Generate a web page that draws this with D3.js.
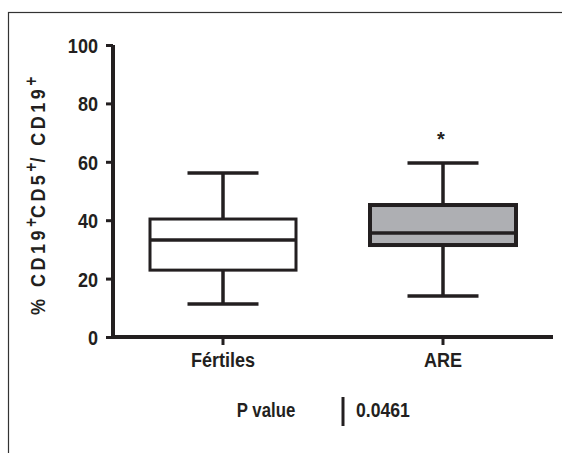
<!DOCTYPE html>
<html><head><meta charset="utf-8">
<script src="https://cdn.jsdelivr.net/npm/d3@7"></script>
<style>
html,body{margin:0;padding:0;background:#fff;}
text{font-family:"Liberation Sans",Arial,sans-serif;font-weight:bold;fill:#231f20;}
</style></head>
<body><svg id="c" width="562" height="453"></svg>
<script>
const categories = ["Fértiles", "ARE"];
const whiskerLow = [11.3, 14.0];
const q1 = [22.9, 31.5];
const median = [33.2, 35.6];
const q3 = [40.4, 45.2];
const whiskerHigh = [56.2, 59.6];
const fills = ["#ffffff", "#aeafb3"];
const yTicks = [0, 20, 40, 60, 80, 100];
const pLabel = "P value";
const pValue = "0.0461";
const star = "*";

const svg = d3.select("#c");
const ink = "#231f20";
const SX = 0.86; // condensed look

// frame
svg.append("rect").attr("x", 8.5).attr("y", 12.5).attr("width", 600).attr("height", 500)
  .attr("fill", "none").attr("stroke", "#333").attr("stroke-width", 1.2);

const y = d3.scaleLinear().domain([0, 100]).range([337, 45]);
const x = d3.scaleBand().domain(categories).range([113, 553]).paddingInner(0).paddingOuter(0);

function condense(sel) {
  sel.each(function () {
    const t = d3.select(this);
    const tx = +t.attr("x") || 0, ty = +t.attr("y") || 0;
    t.attr("x", 0).attr("y", 0).attr("transform", `translate(${tx},${ty}) scale(${SX},1)`);
  });
}

// y axis
const yAxis = svg.append("g").attr("transform", "translate(113,0)")
  .call(d3.axisLeft(y).tickValues(yTicks).tickSize(7).tickPadding(8).tickFormat(d3.format("d")));
yAxis.select(".domain").attr("d", `M0,${y(100)}V${y(0)+2}`).attr("stroke", ink).attr("stroke-width", 4);
yAxis.selectAll(".tick line").attr("stroke", ink).attr("stroke-width", 3);
yAxis.selectAll(".tick text").attr("font-size", 21).attr("dy", "0.36em").style("fill", ink).call(condense);

// x axis
const xAxis = svg.append("g").attr("transform", `translate(0,${y(0)})`)
  .call(d3.axisBottom(x).tickSize(8).tickPadding(9));
xAxis.select(".domain").attr("d", `M111,0H553`).attr("stroke", ink).attr("stroke-width", 4);
xAxis.selectAll(".tick line").attr("stroke", ink).attr("stroke-width", 3);
xAxis.selectAll(".tick text").attr("font-size", 21).attr("dy", "0.62em").style("fill", ink).call(condense);

// boxes
const boxW = 146, capW = 71;
categories.forEach((c, i) => {
  const cx = x(c) + x.bandwidth() / 2;
  const sw = i === 1 ? 4 : 3;
  const g = svg.append("g");
  g.append("line").attr("x1", cx).attr("x2", cx).attr("y1", y(whiskerHigh[i])).attr("y2", y(q3[i]))
    .attr("stroke", ink).attr("stroke-width", 3.5);
  g.append("line").attr("x1", cx).attr("x2", cx).attr("y1", y(q1[i])).attr("y2", y(whiskerLow[i]))
    .attr("stroke", ink).attr("stroke-width", 3.5);
  g.append("line").attr("x1", cx - capW / 2).attr("x2", cx + capW / 2).attr("y1", y(whiskerHigh[i])).attr("y2", y(whiskerHigh[i]))
    .attr("stroke", ink).attr("stroke-width", 3.5);
  g.append("line").attr("x1", cx - capW / 2).attr("x2", cx + capW / 2).attr("y1", y(whiskerLow[i])).attr("y2", y(whiskerLow[i]))
    .attr("stroke", ink).attr("stroke-width", 3.5);
  g.append("rect").attr("x", cx - boxW / 2).attr("y", y(q3[i])).attr("width", boxW).attr("height", y(q1[i]) - y(q3[i]))
    .attr("fill", fills[i]).attr("stroke", ink).attr("stroke-width", sw);
  g.append("line").attr("x1", cx - boxW / 2).attr("x2", cx + boxW / 2).attr("y1", y(median[i])).attr("y2", y(median[i]))
    .attr("stroke", ink).attr("stroke-width", 3.5);
});

// significance star
svg.append("text").attr("x", x("ARE") + x.bandwidth() / 2 - 2).attr("y", y(whiskerHigh[1]) - 17)
  .attr("text-anchor", "middle").attr("font-size", 20).text(star);

// y label
const yl = svg.append("text").attr("transform", `translate(45,315) rotate(-90) scale(${SX},1)`)
  .attr("text-anchor", "start").attr("font-size", 21).style("letter-spacing", "4px");
const parts = [["% CD19", false], ["+", true], ["CD5", false], ["+", true], ["/ CD19", false], ["+", true]];
parts.forEach(([t, sup], k) => {
  const ts = yl.append("tspan").text(t);
  if (sup) ts.attr("font-size", 18).attr("dy", -8).style("letter-spacing", "0px");
  else ts.attr("dy", k > 0 ? 8 : 0);
});

// p value row
svg.append("text").attr("transform", `translate(266,417) scale(0.84,1)`).attr("text-anchor", "middle")
  .attr("font-size", 20).text(pLabel);
svg.append("line").attr("x1", 343).attr("x2", 343).attr("y1", 397).attr("y2", 426).attr("stroke", ink).attr("stroke-width", 3);
svg.append("text").attr("transform", `translate(356,417) scale(0.86,1)`).attr("font-size", 20.5).text(pValue);
</script></body></html>
